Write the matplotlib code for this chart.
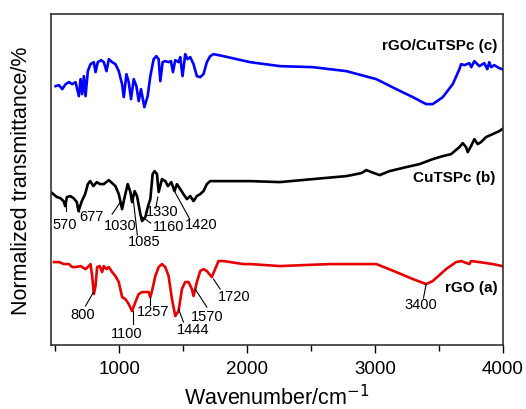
import numpy as np
import matplotlib.pyplot as plt
from matplotlib.ticker import MultipleLocator

plt.rcParams['font.family'] = ['Liberation Sans', 'DejaVu Sans']

# FT-IR spectra, wavenumber (cm-1) vs. offset transmittance (arb. units)
wn_c = [501, 527, 553, 579, 605, 631, 657, 683, 696, 709, 722, 735, 753, 774, 800,
        813, 831, 857, 878, 899, 917, 943, 969, 995, 1021, 1034, 1055, 1073, 1091,
        1112, 1133, 1151, 1169, 1195, 1221, 1242, 1268, 1289, 1307, 1320, 1338,
        1359, 1385, 1403, 1419, 1437, 1463, 1476, 1494, 1515, 1533, 1554, 1580,
        1606, 1632, 1658, 1684, 1710, 1736, 1814, 1918, 2022, 2256, 2513, 2776,
        3010, 3166, 3296, 3400, 3451, 3530, 3608, 3660, 3673, 3699, 3738, 3753,
        3777, 3816, 3855, 3878, 3894, 3909, 3933, 3972, 3995]
tr_c = [259, 260, 256, 261, 263, 261, 263, 249, 266, 251, 269, 249, 274, 281, 283,
        273, 283, 285, 283, 274, 286, 283, 281, 274, 261, 248, 271, 263, 246,
        266, 259, 244, 256, 238, 249, 269, 286, 289, 286, 264, 283,
        284, 283, 284, 273, 285, 283, 288, 269, 291, 286, 288, 281,
        269, 268, 271, 283, 289, 291, 289, 286, 283, 279, 278, 274,
        266, 256, 248, 241, 241, 248, 261, 276, 281, 280, 282, 278,
        284, 279, 282, 276, 283, 278, 280, 277, 276]

wn_b = [474, 511, 537, 563, 576, 589, 615, 641, 667, 680, 706, 732, 753, 771, 797,
        823, 849, 878, 917, 943, 969, 995, 1021, 1041, 1065, 1086, 1099, 1119,
        1138, 1164, 1177, 1203, 1224, 1242, 1260, 1275, 1294, 1307, 1333, 1359,
        1380, 1406, 1431, 1450, 1476, 1501, 1528, 1554, 1580, 1606, 1632, 1658,
        1684, 1710, 1866, 2022, 2256, 2513, 2776, 2893, 2932, 2971, 3036, 3114,
        3244, 3348, 3452, 3530, 3595, 3660, 3686, 3712, 3725, 3751, 3777, 3803,
        3829, 3868, 3920, 3972, 3995]
tr_b = [152, 148, 147, 144, 139, 148, 149, 147, 143, 134, 144, 151, 161, 164, 159,
        163, 161, 161, 165, 162, 159, 151, 136, 148, 161, 153, 143, 154,
        149, 131, 124, 128, 139, 146, 171, 174, 171, 153, 166, 164,
        159, 163, 154, 161, 156, 151, 146, 149, 144, 149, 151, 154,
        161, 164, 164, 164, 163, 166, 169, 172, 175, 173, 170, 174,
        178, 181, 186, 189, 191, 198, 202, 198, 193, 199, 206, 201,
        203, 208, 211, 214, 216]

wn_a = [488, 527, 566, 605, 631, 657, 696, 735, 761, 774, 787, 800, 813, 826, 846,
        865, 878, 899, 917, 943, 969, 995, 1021, 1047, 1073, 1099, 1125, 1151,
        1177, 1203, 1229, 1242, 1255, 1281, 1307, 1333, 1359, 1385, 1411, 1437,
        1463, 1489, 1515, 1541, 1567, 1580, 1606, 1632, 1658, 1684, 1723, 1749,
        1775, 1814, 1866, 1970, 2022, 2256, 2646, 3010, 3166, 3296, 3400, 3451,
        3556, 3634, 3673, 3738, 3751, 3816, 3920, 3995]
tr_a = [83, 83, 81, 81, 78, 78, 79, 76, 79, 81, 69, 51, 59, 78, 79,
        73, 79, 76, 78, 73, 69, 63, 48, 46, 41, 34, 43, 51,
        53, 53, 53, 48, 54, 69, 78, 81, 78, 69, 46, 29,
        34, 56, 63, 63, 56, 49, 63, 74, 76, 74, 68, 76,
        84, 84, 83, 81, 81, 79, 81, 81, 73, 66, 61, 64,
        76, 83, 84, 81, 84, 83, 81, 79]

# band labels: text, leader start, leader end, text centre
bands_b = ['570', '677', '1030', '1085', '1330', '1160', '1420']
lead_b = [((579, 144), (579, 134)), ((670, 138), (690, 133)),
          ((1008, 143), (943, 131)), ((1105, 150), (1140, 110)),
          ((1300, 148), (1285, 137)), ((1180, 128), (1245, 122)),
          ((1430, 154), (1550, 126))]
pos_b = [(575, 121), (782, 129), (1008, 120), (1195, 104), (1331, 134),
         (1382, 119), (1636, 121)]

bands_a = ['800', '1100', '1257', '1444', '1570', '1720', '3400']
lead_a = [((797, 53), (735, 39)), ((1107, 34), (1107, 21)),
          ((1242, 48), (1242, 40)), ((1463, 36), (1501, 23)),
          ((1593, 56), (1684, 38)), ((1736, 66), (1788, 56)),
          ((3400, 61), (3379, 47))]
pos_a = [(715, 31), (1060, 12), (1265, 34), (1577, 16), (1690, 29),
         (1897, 49), (3356, 41)]

samples = ['rGO/CuTSPc (c)', 'CuTSPc (b)', 'rGO (a)']
sample_pos = [(3956, 300), (3941, 168), (3958, 58)]

fig = plt.figure(figsize=(5.26, 4.10), dpi=100)
ax = fig.add_axes([0.097, 0.156, 0.859, 0.807])

ax.plot(wn_c, tr_c, color='#0000ff', lw=1.9)
ax.plot(wn_b, tr_b, color='black', lw=1.9)
ax.plot(wn_a, tr_a, color='#e60000', lw=1.9)

for txt, (p0, p1), (tx, ty) in zip(bands_b + bands_a, lead_b + lead_a, pos_b + pos_a):
    ax.plot([p0[0], p1[0]], [p0[1], p1[1]], color='black', lw=0.8)
    ax.text(tx, ty, txt, ha='center', va='center', fontsize=10.5)

for txt, (tx, ty) in zip(samples, sample_pos):
    ax.text(tx, ty, txt, ha='right', va='center', fontsize=11, fontweight='bold')

ax.set_xlim(465, 4000)
ax.set_ylim(0, 331)
ax.xaxis.set_major_locator(MultipleLocator(1000))
ax.xaxis.set_minor_locator(MultipleLocator(500))
ax.tick_params(axis='x', which='major', direction='out', length=6, width=1,
               labelsize=13.5, pad=5)
ax.tick_params(axis='x', which='minor', direction='out', length=4, width=1)
ax.set_yticks([])
for sp in ax.spines.values():
    sp.set_color('#333333')
    sp.set_linewidth(1.2)

ax.set_xlabel('Wavenumber/cm$^{-1}$', fontsize=15.5, labelpad=5)
ax.set_ylabel('Normalized transmittance/%', fontsize=15.5)
ax.yaxis.set_label_coords(-0.042, 0.5)

fig.savefig('out.png', dpi=100)
